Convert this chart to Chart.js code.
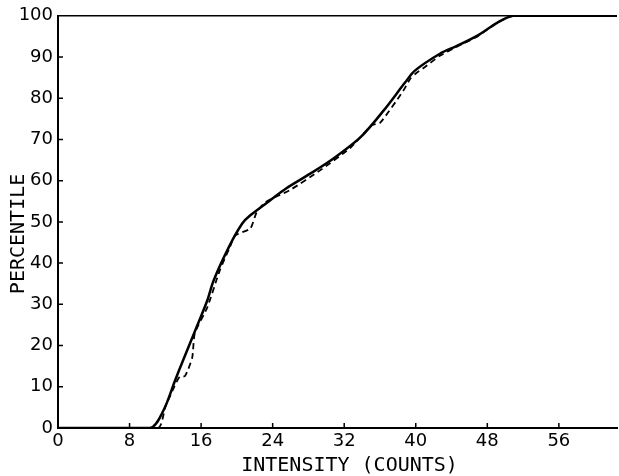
<!DOCTYPE html>
<html>
<head>
<meta charset="utf-8">
<script src="https://cdn.jsdelivr.net/npm/chart.js@4"></script>
<style>
html,body{margin:0;padding:0;background:#fff;}
#wrap{width:619px;height:476px;}
</style>
</head>
<body>
<div id="wrap"><canvas id="c" width="619" height="476"></canvas></div>
<script>
// intensity vs percentile
const solidX=[0,10.3,11.8,13.1,14.0,15.5,16.7,17.4,19.2,20.6,21.5,23.7,25.5,28.2,30.8,33.8,36.4,38.8,39.9,42.7,44.6,46.9,49.1,50.9,62.5];
const solidY=[0,0,4.3,11.6,16.5,24.5,31,35.8,44.3,49.6,51.6,55.2,58.1,61.7,65.4,70.5,77,83.8,86.7,90.8,92.7,95.2,98.3,100,100];
const dashX=[0,11.2,12.0,13.0,13.6,14.2,15.0,15.3,16.7,18.1,19.2,19.8,21.5,22.2,23.2,26,29.3,32.7,35.1,36.0,38.6,39.4,40.0,40.8,42.7,44.6,46.9,49.1,50.9,62.5];
const dashY=[0,0,5.1,10,12.4,12.6,17,23,29.3,38.3,43.8,46.7,48.4,52.3,54.8,57.8,62.5,68,73.5,74,81.8,84.8,86,87.2,90.3,92.5,95,98.3,100,100];
const xTicks=[0,8,16,24,32,40,48,56];
const yTicks=[0,10,20,30,40,50,60,70,80,90,100];

const pts=(xs,ys)=>xs.map((x,i)=>({x:x,y:ys[i]}));
const tickFont={family:"'DejaVu Sans'",style:'condensed',size:18};
const titleFont={family:"'DejaVu Sans Mono',monospace",size:20,lineHeight:1.0};

// inward tick marks + top frame line
const frame={
  id:'frame',
  afterDraw(chart){
    const {ctx,chartArea:a,scales:{x,y}}=chart;
    ctx.save();
    ctx.strokeStyle='#000';ctx.lineWidth=1.5;
    ctx.beginPath();
    ctx.moveTo(a.left,a.top);ctx.lineTo(a.right,a.top);
    xTicks.forEach(v=>{if(!v)return;const px=x.getPixelForValue(v);ctx.moveTo(px,a.bottom);ctx.lineTo(px,a.bottom-5);});
    yTicks.forEach(v=>{if(!v||v===100)return;const py=y.getPixelForValue(v);ctx.moveTo(a.left,py);ctx.lineTo(a.left+5,py);});
    ctx.stroke();
    ctx.restore();
  }
};

new Chart(document.getElementById('c'),{
  type:'scatter',
  data:{datasets:[
    {data:pts(solidX,solidY),showLine:true,borderColor:'#000',borderWidth:2.5,pointRadius:0,tension:0.3},
    {data:pts(dashX,dashY),showLine:true,borderColor:'#000',borderWidth:1.8,borderDash:[6,4],pointRadius:0,tension:0.2}
  ]},
  options:{
    responsive:false,animation:false,
    layout:{padding:{top:14,right:2,left:0,bottom:0}},
    plugins:{legend:{display:false},tooltip:{enabled:false}},
    scales:{
      x:{type:'linear',min:0,max:62.5,
        afterBuildTicks:s=>{s.ticks=xTicks.map(v=>({value:v}));},
        afterFit:s=>{s.height=48;},
        grid:{display:false,drawTicks:false},
        border:{display:true,color:'#000',width:2},
        ticks:{color:'#000',font:tickFont,padding:3,maxRotation:0},
        title:{display:true,text:'  INTENSITY (COUNTS)',color:'#000',font:titleFont,padding:{top:0,bottom:0}}},
      y:{min:0,max:100,
        afterBuildTicks:s=>{s.ticks=yTicks.map(v=>({value:v}));},
        afterFit:s=>{s.width=58;},
        grid:{display:false,drawTicks:false},
        border:{display:true,color:'#000',width:2},
        ticks:{color:'#000',font:tickFont,padding:5},
        title:{display:true,text:'PERCENTILE  ',color:'#000',font:titleFont,padding:{top:9,bottom:0}}}
    }
  },
  plugins:[frame]
});
</script>
</body>
</html>
